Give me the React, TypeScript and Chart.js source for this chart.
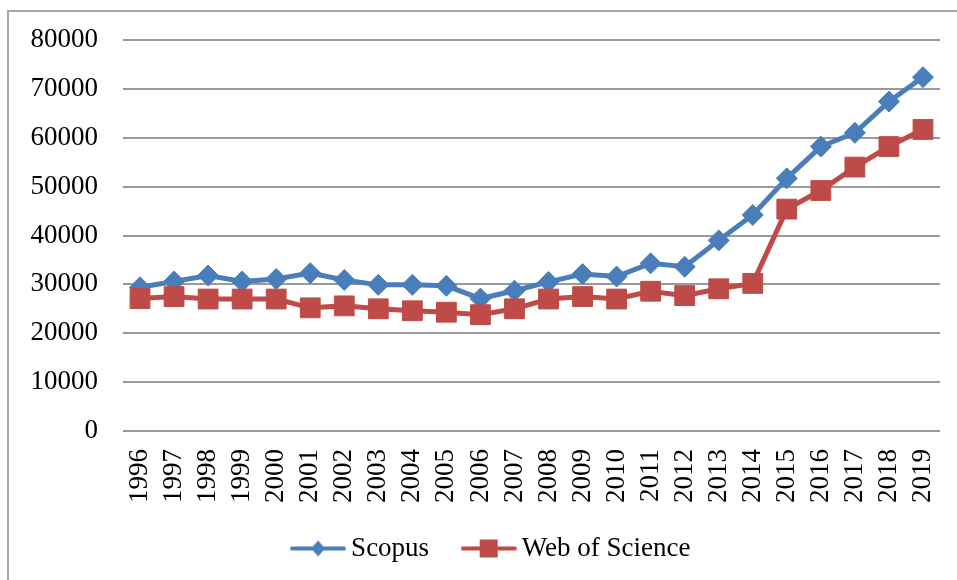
import React, { useEffect, useRef } from "react";
import { Chart, registerables } from "chart.js";

Chart.register(...registerables);

const years = ["1996","1997","1998","1999","2000","2001","2002","2003","2004","2005","2006","2007","2008","2009","2010","2011","2012","2013","2014","2015","2016","2017","2018","2019"];
const scopus = [29400,30600,31800,30600,31100,32300,30900,29900,29900,29700,27100,28700,30500,32100,31600,34300,33600,39000,44200,51700,58200,61000,67400,72400];
const webOfScience = [27100,27500,27000,27000,27000,25200,25600,25000,24600,24300,23800,25000,27000,27500,27000,28600,27700,29100,30200,45400,49200,54000,58200,61700];
const seriesNames = ["Scopus", "Web of Science"];
const yMin = 0;
const yMax = 80000;
const yStep = 10000;

const BLUE = "#4A7EBB";
const RED = "#BE4B48";
const FONT = "'Liberation Serif', 'Times New Roman', serif";

function legendIcon(color: string, shape: "diamond" | "square") {
  const c = document.createElement("canvas");
  c.width = 56;
  c.height = 24;
  const ctx = c.getContext("2d")!;
  ctx.strokeStyle = color;
  ctx.lineWidth = 4;
  ctx.lineCap = "round";
  ctx.beginPath();
  ctx.moveTo(2, 12);
  ctx.lineTo(54, 12);
  ctx.stroke();
  ctx.fillStyle = color;
  if (shape === "diamond") {
    ctx.beginPath();
    ctx.moveTo(28, 4);
    ctx.lineTo(35, 12);
    ctx.lineTo(28, 20);
    ctx.lineTo(21, 12);
    ctx.closePath();
    ctx.fill();
  } else {
    ctx.fillRect(19, 3, 18, 18);
  }
  return c;
}

const legendShift = {
  id: "legendShift",
  afterLayout(chart: any) {
    const lg = chart.legend;
    if (lg) {
      lg.left += 20;
      lg.right += 20;
      lg.top -= 12;
      lg.bottom -= 12;
    }
  },
};

export default function App() {
  const ref = useRef<HTMLCanvasElement>(null);
  useEffect(() => {
    if (!ref.current) return;
    const icons = [legendIcon(BLUE, "diamond"), legendIcon(RED, "square")];
    const chart = new Chart(ref.current, {
      type: "line",
      plugins: [legendShift],
      data: {
        labels: years,
        datasets: [
          {
            label: seriesNames[0],
            data: scopus,
            borderColor: BLUE,
            backgroundColor: BLUE,
            borderWidth: 5,
            pointStyle: "rectRot",
            pointRadius: 10.5,
            pointBorderWidth: 1,
            pointBackgroundColor: BLUE,
            pointBorderColor: BLUE,
            tension: 0,
            order: 1,
          },
          {
            label: seriesNames[1],
            data: webOfScience,
            borderColor: RED,
            backgroundColor: RED,
            borderWidth: 5,
            pointStyle: "rect",
            pointRadius: 14,
            pointBorderWidth: 1,
            pointBackgroundColor: RED,
            pointBorderColor: RED,
            tension: 0,
            order: 0,
          },
        ],
      },
      options: {
        responsive: false,
        animation: false,
        layout: { padding: { top: 28, right: 17, left: 0, bottom: -4 } },
        scales: {
          x: {
            offset: true,
            grid: { display: false, drawTicks: false },
            border: { display: false },
            ticks: {
              color: "#000",
              font: { family: FONT, size: 27 },
              maxRotation: 90,
              minRotation: 90,
              padding: 18,
              autoSkip: false,
            },
            afterFit: (s: any) => {
              s.height = 76;
              s.paddingLeft = 0;
              s.paddingRight = 0;
            },
          },
          y: {
            min: yMin,
            max: yMax,
            grid: { color: "#999999", lineWidth: 2, drawTicks: false },
            border: { display: false },
            ticks: {
              stepSize: yStep,
              color: "#000",
              font: { family: FONT, size: 27 },
              padding: 25,
              callback: (v: any) => String(v),
            },
            afterFit: (s: any) => {
              s.width = 114;
              s.paddingTop = 0;
              s.paddingBottom = 0;
            },
          },
        },
        plugins: {
          tooltip: { enabled: false },
          legend: {
            position: "bottom",
            labels: {
              usePointStyle: true,
              pointStyleWidth: 39,
              padding: 40,
              color: "#000",
              font: { family: FONT, size: 27 },
              sort: (a: any, b: any) => a.datasetIndex - b.datasetIndex,
              generateLabels: (ch: any) => {
                const items = Chart.defaults.plugins.legend.labels.generateLabels(ch);
                return items.map((it: any) => ({ ...it, pointStyle: icons[it.datasetIndex] }));
              },
            },
          },
        },
      },
    });
    return () => chart.destroy();
  }, []);
  return (
    <div
      style={{
        position: "absolute",
        left: 7,
        top: 10,
        width: 960,
        height: 580,
        borderLeft: "2px solid #a6a6a6",
        borderTop: "2px solid #a6a6a6",
        boxSizing: "border-box",
        background: "#fff",
      }}
    >
      <canvas ref={ref} width={948} height={568} style={{ position: "absolute", left: 0, top: 0, width: 948, height: 568 }} />
    </div>
  );
}
